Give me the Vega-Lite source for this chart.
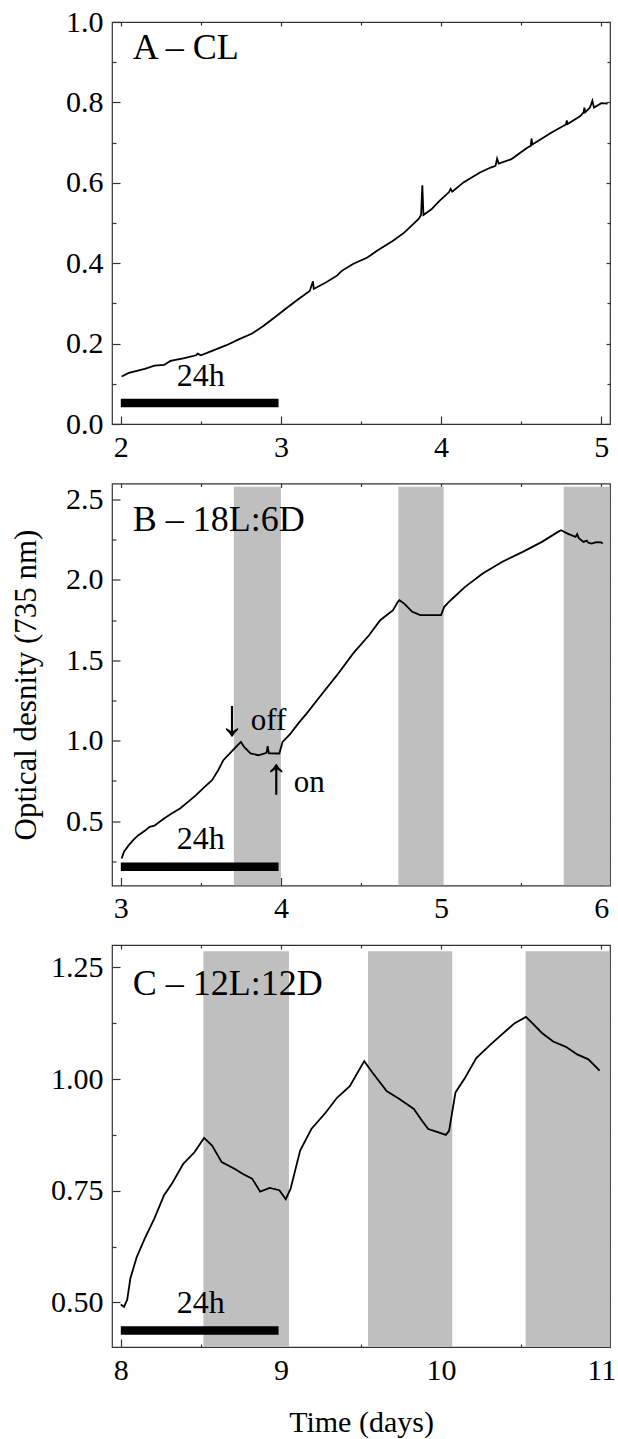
{
  "$schema": "https://vega.github.io/schema/vega-lite/v6.json",
  "background": "white",
  "padding": {"left": 9, "top": 6, "right": 0, "bottom": 5},
  "spacing": 59.5,
  "bounds": "flush",
  "config": {
    "font": "Liberation Serif, Times New Roman, Tinos, DejaVu Serif, serif",
    "view": {"stroke": "#333333", "strokeWidth": 1.2},
    "axis": {
      "labelFont": "Liberation Serif, Times New Roman, Tinos, DejaVu Serif, serif", "labelFontSize": 30, "labelColor": "black",
      "tickColor": "#333333", "tickWidth": 1.2, "domain": false, "grid": false,
      "labelFlush": false, "labelOverlap": false,
      "titleFont": "Liberation Serif, Times New Roman, Tinos, DejaVu Serif, serif", "titleFontWeight": "normal", "titleColor": "black"
    },
    "text": {"font": "Liberation Serif, Times New Roman, Tinos, DejaVu Serif, serif", "color": "black"}
  },
  "datasets": {
    "lineA": [
      {"t": 2.005, "od": 0.118}, {"t": 2.05, "od": 0.127}, {"t": 2.10, "od": 0.132}, {"t": 2.15, "od": 0.137},
      {"t": 2.21, "od": 0.145}, {"t": 2.27, "od": 0.147}, {"t": 2.31, "od": 0.157}, {"t": 2.39, "od": 0.163},
      {"t": 2.47, "od": 0.171}, {"t": 2.48, "od": 0.175}, {"t": 2.50, "od": 0.171}, {"t": 2.57, "od": 0.182},
      {"t": 2.66, "od": 0.196}, {"t": 2.74, "od": 0.211}, {"t": 2.82, "od": 0.225}, {"t": 2.89, "od": 0.244},
      {"t": 2.96, "od": 0.265}, {"t": 3.04, "od": 0.29}, {"t": 3.11, "od": 0.311}, {"t": 3.18, "od": 0.331},
      {"t": 3.20, "od": 0.355}, {"t": 3.205, "od": 0.336}, {"t": 3.28, "od": 0.352}, {"t": 3.35, "od": 0.369},
      {"t": 3.38, "od": 0.381}, {"t": 3.45, "od": 0.398}, {"t": 3.54, "od": 0.414}, {"t": 3.60, "od": 0.431},
      {"t": 3.70, "od": 0.456}, {"t": 3.77, "od": 0.476}, {"t": 3.86, "od": 0.51}, {"t": 3.875, "od": 0.52},
      {"t": 3.883, "od": 0.594}, {"t": 3.89, "od": 0.52}, {"t": 3.94, "od": 0.534}, {"t": 3.99, "od": 0.555},
      {"t": 4.05, "od": 0.577}, {"t": 4.06, "od": 0.585}, {"t": 4.07, "od": 0.578}, {"t": 4.14, "od": 0.601},
      {"t": 4.24, "od": 0.625}, {"t": 4.31, "od": 0.638}, {"t": 4.34, "od": 0.642}, {"t": 4.35, "od": 0.66},
      {"t": 4.36, "od": 0.648}, {"t": 4.44, "od": 0.659}, {"t": 4.54, "od": 0.688}, {"t": 4.56, "od": 0.692},
      {"t": 4.565, "od": 0.71}, {"t": 4.57, "od": 0.695}, {"t": 4.69, "od": 0.725}, {"t": 4.78, "od": 0.745},
      {"t": 4.785, "od": 0.755}, {"t": 4.79, "od": 0.746}, {"t": 4.87, "od": 0.766}, {"t": 4.89, "od": 0.775},
      {"t": 4.895, "od": 0.787}, {"t": 4.90, "od": 0.775}, {"t": 4.93, "od": 0.787}, {"t": 4.945, "od": 0.804},
      {"t": 4.955, "od": 0.787}, {"t": 4.98, "od": 0.793}, {"t": 5.0, "od": 0.798}, {"t": 5.04, "od": 0.797}
    ],
    "lineB": [
      {"t": 3.005, "od": 0.268}, {"t": 3.02, "od": 0.31}, {"t": 3.05, "od": 0.351}, {"t": 3.08, "od": 0.385},
      {"t": 3.11, "od": 0.413}, {"t": 3.15, "od": 0.44}, {"t": 3.18, "od": 0.465}, {"t": 3.21, "od": 0.472},
      {"t": 3.27, "od": 0.517}, {"t": 3.32, "od": 0.55}, {"t": 3.37, "od": 0.579}, {"t": 3.42, "od": 0.62},
      {"t": 3.47, "od": 0.662}, {"t": 3.52, "od": 0.71}, {"t": 3.57, "od": 0.755}, {"t": 3.61, "od": 0.82},
      {"t": 3.64, "od": 0.879}, {"t": 3.69, "od": 0.931}, {"t": 3.73, "od": 0.973}, {"t": 3.75, "od": 0.993},
      {"t": 3.77, "od": 0.962}, {"t": 3.81, "od": 0.921}, {"t": 3.86, "od": 0.91}, {"t": 3.91, "od": 0.925},
      {"t": 3.917, "od": 0.966}, {"t": 3.925, "od": 0.922}, {"t": 3.99, "od": 0.921}, {"t": 4.01, "od": 0.993},
      {"t": 4.06, "od": 1.045}, {"t": 4.11, "od": 1.11}, {"t": 4.16, "od": 1.169}, {"t": 4.25, "od": 1.283},
      {"t": 4.35, "od": 1.408}, {"t": 4.45, "od": 1.542}, {"t": 4.55, "od": 1.656}, {"t": 4.62, "od": 1.75},
      {"t": 4.70, "od": 1.812}, {"t": 4.73, "od": 1.864}, {"t": 4.74, "od": 1.874}, {"t": 4.77, "od": 1.853},
      {"t": 4.82, "od": 1.802}, {"t": 4.87, "od": 1.781}, {"t": 4.94, "od": 1.781}, {"t": 5.00, "od": 1.781},
      {"t": 5.02, "od": 1.833}, {"t": 5.06, "od": 1.874}, {"t": 5.15, "od": 1.957}, {"t": 5.26, "od": 2.04},
      {"t": 5.38, "od": 2.112}, {"t": 5.51, "od": 2.175}, {"t": 5.63, "od": 2.237}, {"t": 5.73, "od": 2.299},
      {"t": 5.75, "od": 2.309}, {"t": 5.79, "od": 2.288}, {"t": 5.84, "od": 2.268}, {"t": 5.85, "od": 2.285},
      {"t": 5.86, "od": 2.26}, {"t": 5.89, "od": 2.237}, {"t": 5.91, "od": 2.245}, {"t": 5.92, "od": 2.232},
      {"t": 5.94, "od": 2.226}, {"t": 5.97, "od": 2.235}, {"t": 6.0, "od": 2.234}, {"t": 6.01, "od": 2.226}
    ],
    "lineC": [
      {"t": 8.0, "od": 0.495}, {"t": 8.02, "od": 0.49}, {"t": 8.04, "od": 0.506}, {"t": 8.06, "od": 0.554},
      {"t": 8.10, "od": 0.602}, {"t": 8.15, "od": 0.643}, {"t": 8.21, "od": 0.688}, {"t": 8.27, "od": 0.74},
      {"t": 8.32, "od": 0.766}, {"t": 8.39, "od": 0.81}, {"t": 8.46, "od": 0.836}, {"t": 8.52, "od": 0.868},
      {"t": 8.57, "od": 0.851}, {"t": 8.63, "od": 0.814}, {"t": 8.71, "od": 0.799}, {"t": 8.76, "od": 0.788},
      {"t": 8.82, "od": 0.777}, {"t": 8.87, "od": 0.748}, {"t": 8.93, "od": 0.756}, {"t": 8.99, "od": 0.751},
      {"t": 9.03, "od": 0.731}, {"t": 9.06, "od": 0.754}, {"t": 9.12, "od": 0.84}, {"t": 9.19, "od": 0.888},
      {"t": 9.28, "od": 0.925}, {"t": 9.35, "od": 0.958}, {"t": 9.43, "od": 0.984}, {"t": 9.52, "od": 1.04},
      {"t": 9.57, "od": 1.015}, {"t": 9.66, "od": 0.973}, {"t": 9.74, "od": 0.955}, {"t": 9.83, "od": 0.933},
      {"t": 9.88, "od": 0.907}, {"t": 9.92, "od": 0.888}, {"t": 9.97, "od": 0.882}, {"t": 10.03, "od": 0.875},
      {"t": 10.05, "od": 0.884}, {"t": 10.09, "od": 0.97}, {"t": 10.15, "od": 1.003}, {"t": 10.22, "od": 1.047},
      {"t": 10.30, "od": 1.074}, {"t": 10.38, "od": 1.1}, {"t": 10.46, "od": 1.125}, {"t": 10.53, "od": 1.139},
      {"t": 10.57, "od": 1.125}, {"t": 10.63, "od": 1.103}, {"t": 10.70, "od": 1.084}, {"t": 10.78, "od": 1.072},
      {"t": 10.85, "od": 1.055}, {"t": 10.92, "od": 1.044}, {"t": 10.99, "od": 1.019}
    ],
    "bandsB": [
      {"s": 3.706, "e": 4.0, "lo": 0.1, "hi": 2.58},
      {"s": 4.733, "e": 5.016, "lo": 0.1, "hi": 2.58},
      {"s": 5.766, "e": 6.055, "lo": 0.1, "hi": 2.58}
    ],
    "bandsC": [
      {"s": 8.516, "e": 9.05, "lo": 0.4, "hi": 1.286},
      {"s": 9.544, "e": 10.07, "lo": 0.4, "hi": 1.286},
      {"s": 10.528, "e": 11.055, "lo": 0.4, "hi": 1.286}
    ],
    "barA": [{"x1": 2.0, "x2": 2.985, "y": 0.052, "label": "24h", "xm": 2.5, "yl": 0.095}],
    "barB": [{"x1": 3.0, "x2": 3.985, "y": 0.216, "label": "24h", "xm": 3.5, "yl": 0.33}],
    "barC": [{"x1": 8.0, "x2": 8.985, "y": 0.437, "label": "24h", "xm": 8.5, "yl": 0.476}],
    "titleA": [{"x": 2.074, "y": 0.907, "label": "A – CL"}],
    "titleB": [{"x": 3.074, "y": 2.305, "label": "B – 18L:6D"}],
    "titleC": [{"x": 8.074, "y": 1.188, "label": "C – 12L:12D"}],
    "wordsB": [
      {"x": 3.812, "y": 1.066, "label": "off"},
      {"x": 4.08, "y": 0.682, "label": "on"}
    ],
    "arrowsB": [
      {"x": 3.694, "y": 1.133, "label": "↓"},
      {"x": 3.971, "y": 0.776, "label": "↑"}
    ]
  },
  "vconcat": [
    {
      "width": 498, "height": 402,
      "resolve": {"axis": {"x": "independent", "y": "independent"}},
      "layer": [
        {
          "data": {"name": "lineA"},
          "mark": {"type": "line", "color": "black", "strokeWidth": 1.8},
          "encoding": {
            "x": {"field": "t", "type": "quantitative",
              "scale": {"domain": [1.945, 5.055], "nice": false, "zero": false},
              "axis": {"orient": "bottom", "title": null, "values": [2, 2.5, 3, 3.5, 4, 4.5, 5],
                "labelExpr": "abs(datum.value-round(datum.value))<0.001 ? format(datum.value,'d') : ''",
                "tickSize": {"condition": {"test": "abs(datum.value-round(datum.value))<0.001", "value": -8}, "value": -3},
                "labelPadding": 16}},
            "y": {"field": "od", "type": "quantitative",
              "scale": {"domain": [0, 1], "nice": false, "zero": false},
              "axis": {"orient": "left", "title": null, "values": [0, 0.1, 0.2, 0.3, 0.4, 0.5, 0.6, 0.7, 0.8, 0.9, 1.0],
                "labelExpr": "abs(datum.value*5-round(datum.value*5))<0.001 ? format(datum.value,'.1f') : ''",
                "tickSize": {"condition": {"test": "abs(datum.value*5-round(datum.value*5))<0.001", "value": -8}, "value": -4},
                "labelPadding": 17}}
          }
        },
        {
          "data": {"name": "barA"},
          "mark": {"type": "rule", "color": "black", "strokeWidth": 8.5},
          "encoding": {
            "x": {"field": "x1", "type": "quantitative",
              "axis": {"orient": "top", "title": null, "labels": false, "values": [2, 2.5, 3, 3.5, 4, 4.5, 5],
                "tickSize": {"condition": {"test": "abs(datum.value-round(datum.value))<0.001", "value": -4}, "value": -3}}},
            "x2": {"field": "x2"},
            "y": {"field": "y", "type": "quantitative",
              "axis": {"orient": "right", "title": null, "labels": false, "values": [0, 0.1, 0.2, 0.3, 0.4, 0.5, 0.6, 0.7, 0.8, 0.9, 1.0],
                "tickSize": {"condition": {"test": "abs(datum.value*5-round(datum.value*5))<0.001", "value": -4}, "value": -3}}}
          }
        },
        {
          "data": {"name": "barA"},
          "mark": {"type": "text", "fontSize": 32, "align": "center", "baseline": "alphabetic"},
          "encoding": {
            "x": {"field": "xm", "type": "quantitative", "axis": null},
            "y": {"field": "yl", "type": "quantitative", "axis": null},
            "text": {"field": "label"}
          }
        },
        {
          "data": {"name": "titleA"},
          "mark": {"type": "text", "fontSize": 36, "align": "left", "baseline": "alphabetic"},
          "encoding": {
            "x": {"field": "x", "type": "quantitative", "axis": null},
            "y": {"field": "y", "type": "quantitative", "axis": null},
            "text": {"field": "label"}
          }
        }
      ]
    },
    {
      "width": 498, "height": 402,
      "resolve": {"axis": {"x": "independent", "y": "independent"}},
      "layer": [
        {
          "data": {"name": "bandsB"},
          "mark": {"type": "rect", "color": "#bfbfbf", "clip": true},
          "encoding": {
            "x": {"field": "s", "type": "quantitative", "axis": null,
              "scale": {"domain": [2.945, 6.055], "nice": false, "zero": false}},
            "x2": {"field": "e"},
            "y": {"field": "lo", "type": "quantitative", "axis": null,
              "scale": {"domain": [0.1, 2.6], "nice": false, "zero": false}},
            "y2": {"field": "hi"}
          }
        },
        {
          "data": {"name": "lineB"},
          "mark": {"type": "line", "color": "black", "strokeWidth": 1.8},
          "encoding": {
            "x": {"field": "t", "type": "quantitative",
              "axis": {"orient": "bottom", "title": null, "values": [3, 3.5, 4, 4.5, 5, 5.5, 6],
                "labelExpr": "abs(datum.value-round(datum.value))<0.001 ? format(datum.value,'d') : ''",
                "tickSize": {"condition": {"test": "abs(datum.value-round(datum.value))<0.001", "value": -8}, "value": -3},
                "labelPadding": 16}},
            "y": {"field": "od", "type": "quantitative",
              "axis": {"orient": "left", "title": "Optical desnity (735 nm)", "titleFontSize": 31, "titlePadding": 23,
                "values": [0.25, 0.5, 0.75, 1.0, 1.25, 1.5, 1.75, 2.0, 2.25, 2.5],
                "labelExpr": "abs(datum.value*2-round(datum.value*2))<0.001 ? format(datum.value,'.1f') : ''",
                "tickSize": {"condition": {"test": "abs(datum.value*2-round(datum.value*2))<0.001", "value": -8}, "value": -4},
                "labelPadding": 17}}
          }
        },
        {
          "data": {"name": "barB"},
          "mark": {"type": "rule", "color": "black", "strokeWidth": 8.5},
          "encoding": {
            "x": {"field": "x1", "type": "quantitative",
              "axis": {"orient": "top", "title": null, "labels": false, "values": [3, 3.5, 4, 4.5, 5, 5.5, 6],
                "tickSize": {"condition": {"test": "abs(datum.value-round(datum.value))<0.001", "value": -4}, "value": -3}}},
            "x2": {"field": "x2"},
            "y": {"field": "y", "type": "quantitative",
              "axis": {"orient": "right", "title": null, "labels": false, "values": [0.25, 0.5, 0.75, 1.0, 1.25, 1.5, 1.75, 2.0, 2.25, 2.5],
                "tickSize": {"condition": {"test": "abs(datum.value*2-round(datum.value*2))<0.001", "value": -4}, "value": -3}}}
          }
        },
        {
          "data": {"name": "barB"},
          "mark": {"type": "text", "fontSize": 32, "align": "center", "baseline": "alphabetic"},
          "encoding": {
            "x": {"field": "xm", "type": "quantitative", "axis": null},
            "y": {"field": "yl", "type": "quantitative", "axis": null},
            "text": {"field": "label"}
          }
        },
        {
          "data": {"name": "titleB"},
          "mark": {"type": "text", "fontSize": 36, "align": "left", "baseline": "alphabetic"},
          "encoding": {
            "x": {"field": "x", "type": "quantitative", "axis": null},
            "y": {"field": "y", "type": "quantitative", "axis": null},
            "text": {"field": "label"}
          }
        },
        {
          "data": {"name": "wordsB"},
          "mark": {"type": "text", "fontSize": 31, "align": "left", "baseline": "alphabetic"},
          "encoding": {
            "x": {"field": "x", "type": "quantitative", "axis": null},
            "y": {"field": "y", "type": "quantitative", "axis": null},
            "text": {"field": "label"}
          }
        },
        {
          "data": {"name": "arrowsB"},
          "mark": {"type": "text", "fontSize": 52, "align": "center", "baseline": "middle"},
          "encoding": {
            "x": {"field": "x", "type": "quantitative", "axis": null},
            "y": {"field": "y", "type": "quantitative", "axis": null},
            "text": {"field": "label"}
          }
        }
      ]
    },
    {
      "width": 498, "height": 402,
      "resolve": {"axis": {"x": "independent", "y": "independent"}},
      "layer": [
        {
          "data": {"name": "bandsC"},
          "mark": {"type": "rect", "color": "#bfbfbf", "clip": true},
          "encoding": {
            "x": {"field": "s", "type": "quantitative", "axis": null,
              "scale": {"domain": [7.945, 11.055], "nice": false, "zero": false}},
            "x2": {"field": "e"},
            "y": {"field": "lo", "type": "quantitative", "axis": null,
              "scale": {"domain": [0.4, 1.3], "nice": false, "zero": false}},
            "y2": {"field": "hi"}
          }
        },
        {
          "data": {"name": "lineC"},
          "mark": {"type": "line", "color": "black", "strokeWidth": 1.8},
          "encoding": {
            "x": {"field": "t", "type": "quantitative",
              "axis": {"orient": "bottom", "title": "Time (days)", "titleFontSize": 30, "titlePadding": 17,
                "values": [8, 8.5, 9, 9.5, 10, 10.5, 11],
                "labelExpr": "abs(datum.value-round(datum.value))<0.001 ? format(datum.value,'d') : ''",
                "tickSize": {"condition": {"test": "abs(datum.value-round(datum.value))<0.001", "value": -8}, "value": -3},
                "labelPadding": 16}},
            "y": {"field": "od", "type": "quantitative",
              "axis": {"orient": "left", "title": null,
                "values": [0.5, 0.625, 0.75, 0.875, 1.0, 1.125, 1.25],
                "labelExpr": "abs(datum.value*4-round(datum.value*4))<0.001 ? format(datum.value,'.2f') : ''",
                "tickSize": {"condition": {"test": "abs(datum.value*4-round(datum.value*4))<0.001", "value": -8}, "value": -4},
                "labelPadding": 17}}
          }
        },
        {
          "data": {"name": "barC"},
          "mark": {"type": "rule", "color": "black", "strokeWidth": 8.5},
          "encoding": {
            "x": {"field": "x1", "type": "quantitative",
              "axis": {"orient": "top", "title": null, "labels": false, "values": [8, 8.5, 9, 9.5, 10, 10.5, 11],
                "tickSize": {"condition": {"test": "abs(datum.value-round(datum.value))<0.001", "value": -4}, "value": -3}}},
            "x2": {"field": "x2"},
            "y": {"field": "y", "type": "quantitative",
              "axis": {"orient": "right", "title": null, "labels": false, "values": [0.5, 0.625, 0.75, 0.875, 1.0, 1.125, 1.25],
                "tickSize": {"condition": {"test": "abs(datum.value*4-round(datum.value*4))<0.001", "value": -4}, "value": -3}}}
          }
        },
        {
          "data": {"name": "barC"},
          "mark": {"type": "text", "fontSize": 32, "align": "center", "baseline": "alphabetic"},
          "encoding": {
            "x": {"field": "xm", "type": "quantitative", "axis": null},
            "y": {"field": "yl", "type": "quantitative", "axis": null},
            "text": {"field": "label"}
          }
        },
        {
          "data": {"name": "titleC"},
          "mark": {"type": "text", "fontSize": 36, "align": "left", "baseline": "alphabetic"},
          "encoding": {
            "x": {"field": "x", "type": "quantitative", "axis": null},
            "y": {"field": "y", "type": "quantitative", "axis": null},
            "text": {"field": "label"}
          }
        }
      ]
    }
  ]
}
